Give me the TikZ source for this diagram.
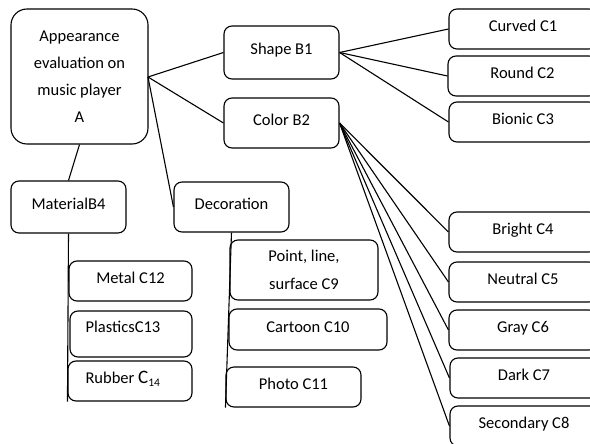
\documentclass[tikz,border=0pt]{standalone}
\usepackage{fontspec}
\setmainfont{Carlito}
\begin{document}
\begin{tikzpicture}[x=1pt,y=-1pt,
  every node/.style={font=\fontsize{16.5}{27}\selectfont},
  box/.style={draw, line width=1.1pt, rounded corners=8pt, align=center, inner sep=0pt},
  one/.style={text height=12pt, text depth=7pt},
  conn/.style={line width=1.1pt}]
\useasboundingbox (0,0) rectangle (590,444);
% level A
\node[box, rounded corners=16pt, minimum width=137pt, minimum height=135pt] (A) at (79.5,76.5) {Appearance\\evaluation on\\music player\\A};
% level B
\node[box, one, minimum width=115pt, minimum height=53pt] (B1) at (281.5,52.5) {Shape B1};
\node[box, one, minimum width=115pt, minimum height=50pt] (B2) at (281.5,123) {Color B2};
\node[box, one, minimum width=115pt, minimum height=52pt] (B4) at (68.5,207) {MaterialB4};
\node[box, one, minimum width=115pt, minimum height=50pt] (Dec) at (231.5,207) {Decoration};
% material children
\node[box, one, minimum width=123pt, minimum height=40pt] (C12) at (130.5,281) {Metal C12};
\node[box, minimum width=122pt, minimum height=46pt,
  label={[yshift=7pt,xshift=-8pt]center:PlasticsC13}] (C13) at (131,334) {};
\node[box, one, minimum width=124pt, minimum height=40pt] (C14) at (130,381) {\hspace*{-14pt}Rubber {\fontsize{19}{19}\selectfont C}\textsubscript{14}};
% decoration children
\node[box, minimum width=148pt, minimum height=60pt, font=\fontsize{16.5}{28}\selectfont] (C9) at (304,270) {Point, line,\\surface C9};
\node[box, one, minimum width=158pt, minimum height=41pt] (C10) at (308,329.5) {Cartoon C10};
\node[box, one, minimum width=135pt, minimum height=40pt] (C11) at (293.5,387) {Photo C11};
% shape children
\node[box, one, minimum width=148pt, minimum height=40pt] (C1) at (523,29) {Curved C1};
\node[box, one, minimum width=149pt, minimum height=40pt] (C2) at (522.5,76) {Round C2};
\node[box, one, minimum width=148pt, minimum height=40pt] (C3) at (523,122) {Bionic C3};
% color children
\node[box, one, minimum width=148pt, minimum height=40pt] (C4) at (523,232) {Bright C4};
\node[box, one, minimum width=148pt, minimum height=40pt] (C5) at (523,282) {Neutral C5};
\node[box, one, minimum width=148pt, minimum height=40pt] (C6) at (523,330) {Gray C6};
\node[box, one, minimum width=148pt, minimum height=40pt] (C7) at (524,378) {Dark C7};
\node[box, one, minimum width=148pt, minimum height=40pt] (C8) at (524,426) {Secondary C8};
% connectors
\coordinate (Aout) at (148,77);
\draw[conn] (Aout) -- (B1.west);
\draw[conn] (Aout) -- (B2.west);
\draw[conn] (Aout) -- (Dec.west);
\draw[conn] (A.south) -- (B4.north);
\draw[conn] (B4.south) -- (C14.south west);
\draw[conn] (Dec.south) -- (C11.south west);
\foreach \c in {C1,C2,C3} \draw[conn] (B1.east) -- (\c.west);
\foreach \c in {C4,C5,C6,C7,C8} \draw[conn] (B2.east) -- (\c.west);
\end{tikzpicture}
\end{document}
